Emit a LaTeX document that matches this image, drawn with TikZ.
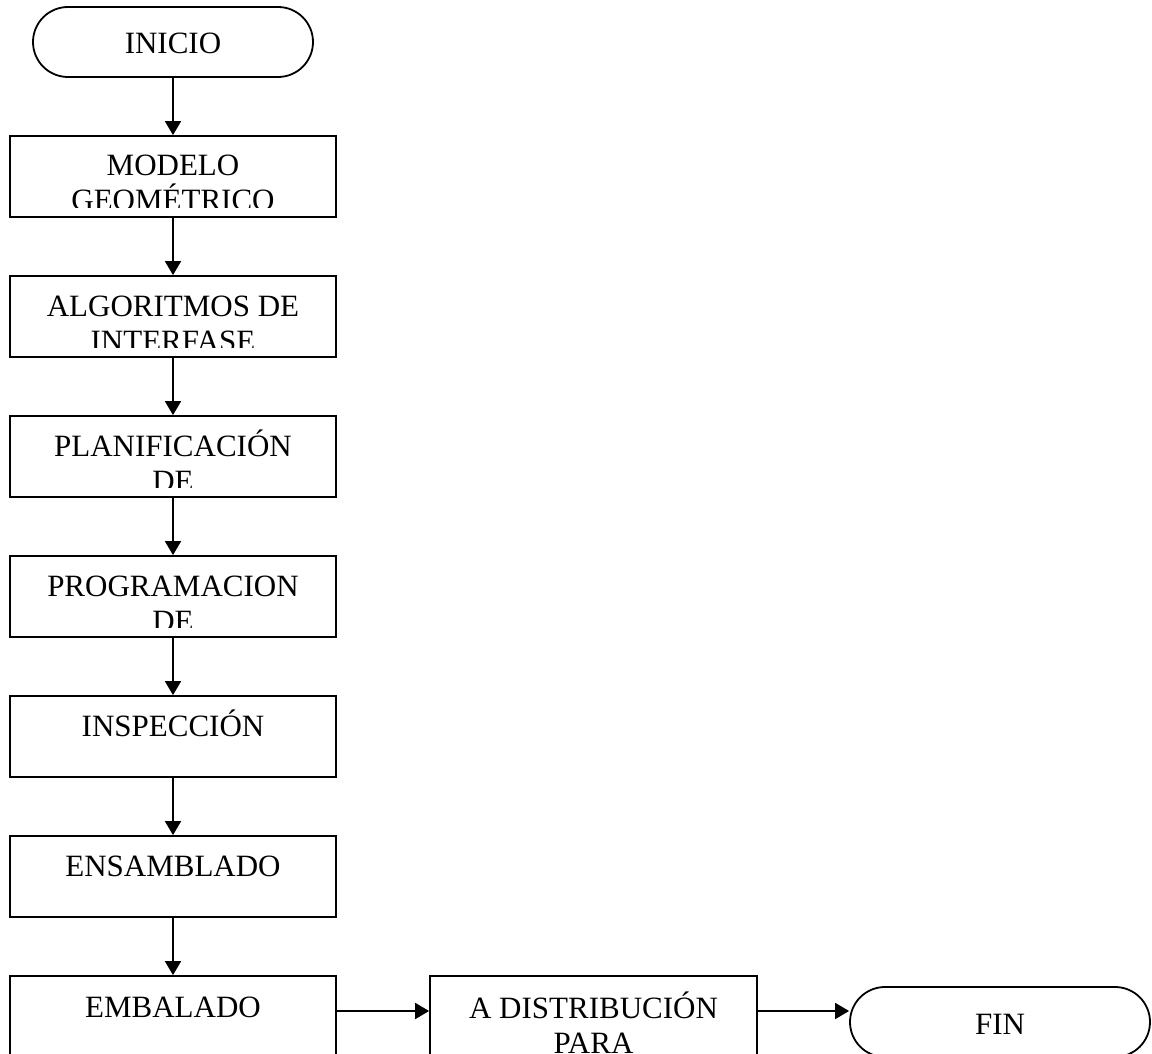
\documentclass[tikz,border=0pt]{standalone}
\usepackage{fontspec}
\setmainfont{Liberation Serif}
\usetikzlibrary{arrows.meta}
\tikzset{
  flowbox/.style={draw, line width=1.8pt, minimum width=326pt, minimum height=81pt, inner sep=0pt},
  termbox/.style={draw, line width=1.8pt, rounded corners=35pt, inner sep=0pt},
  lbl/.style={font=\fontsize{31}{35.5}\selectfont, inner sep=0pt, anchor=base},
  arr/.style={line width=1.8pt, -{Triangle[width=16pt,length=14pt]}}
}
\begin{document}
\begin{tikzpicture}[x=1pt,y=-1pt]
\useasboundingbox (0,0) rectangle (1152,1054);
\clip (0,0) rectangle (1152,1054);
% terminator start
\node[termbox, minimum width=280pt, minimum height=70pt] (ini) at (173,42) {};
\node[lbl] (init) at (173,54) {INICIO};
% column boxes
\node[flowbox] (mod) at (173,176.5) {};
\node[flowbox] (alg) at (173,316.5) {};
\node[flowbox] (pla) at (173,456.5) {};
\node[flowbox] (pro) at (173,596.5) {};
\node[flowbox] (ins) at (173,736.5) {};
\node[flowbox] (ens) at (173,876.5) {};
\node[flowbox] (emb) at (173,1016.5) {};
\node[flowbox, minimum width=327pt] (dis) at (593.5,1016.5) {};
\node[termbox, minimum width=300pt, minimum height=70pt] (fin) at (1000,1022) {};
% labels (clipped like the original)
\begin{scope}
\clip (mod.north west) rectangle ([yshift=10pt]mod.south east);
\node[lbl] (modt1) at (173,176) {MODELO};
\node[lbl] (modt2) at (173,211) {GEOMÉTRICO};
\end{scope}
\begin{scope}
\clip (alg.north west) rectangle ([yshift=10pt]alg.south east);
\node[lbl] (algt1) at (173,316) {ALGORITMOS DE};
\node[lbl] (algt2) at (173,351) {INTERFASE};
\end{scope}
\begin{scope}
\clip (pla.north west) rectangle ([yshift=10pt]pla.south east);
\node[lbl] (plat1) at (173,456) {PLANIFICACIÓN};
\node[lbl] (plat2) at (173,491) {DE};
\end{scope}
\begin{scope}
\clip (pro.north west) rectangle ([yshift=10pt]pro.south east);
\node[lbl] (prot1) at (173,596) {PROGRAMACION};
\node[lbl] (prot2) at (173,631) {DE};
\end{scope}
\node[lbl] (inst) at (173,736) {INSPECCIÓN};
\node[lbl] (enst) at (173,876) {ENSAMBLADO};
\node[lbl] (embt) at (173,1017) {EMBALADO};
\node[lbl] (dist1) at (593.5,1018) {A DISTRIBUCIÓN};
\node[lbl] (dist2) at (593.5,1053) {PARA};
\node[lbl] (fint) at (1000,1034) {FIN};
% connectors
\draw[arr] (ini.south) -- (mod.north);
\draw[arr] (mod.south) -- (alg.north);
\draw[arr] (alg.south) -- (pla.north);
\draw[arr] (pla.south) -- (pro.north);
\draw[arr] (pro.south) -- (ins.north);
\draw[arr] (ins.south) -- (ens.north);
\draw[arr] (ens.south) -- (emb.north);
\draw[arr] ([yshift=5.5pt]emb.east) -- ([yshift=5.5pt]dis.west);
\draw[arr] ([yshift=5.5pt]dis.east) -- ([yshift=11pt]fin.west);
\end{tikzpicture}
\end{document}
